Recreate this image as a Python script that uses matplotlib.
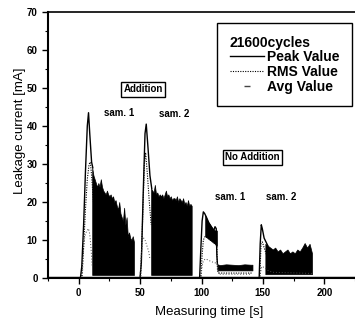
import matplotlib
matplotlib.use("Agg")
import matplotlib.pyplot as plt
from matplotlib.lines import Line2D
from matplotlib.ticker import MultipleLocator

plt.rcParams['font.family'] = ['Liberation Sans', 'DejaVu Sans']

# ---- data ----
base_t = [-25, 225]
base_v = [0.3, 0.3]

# Addition, sample 1
a1_peak_t = [1.5, 2.5, 4, 5.5, 7, 8, 9, 10.5, 11.5]
a1_peak_v = [0.3, 3, 14, 28, 40, 43.5, 38, 30.5, 29]
a1_rms_t = [2.5, 4, 5.5, 7, 8.5, 9.5, 10.5, 12]
a1_rms_v = [0.5, 8, 18, 26, 30, 30.5, 27, 20]
a1_avg_t = [3, 4, 5, 6, 7, 8, 9, 10, 11]
a1_avg_v = [0.5, 8, 11, 12, 12.5, 13, 11.5, 8, 3]
a1_burst_t = [11, 12, 13, 14, 15, 16, 17, 18, 19, 20, 21, 22, 23, 24, 25, 26, 27, 28,
              29, 30, 31, 32, 33, 34, 35, 36, 37, 38, 39, 40, 41, 42, 43, 44, 45]
a1_burst_top = [29, 27, 26, 25, 24, 25, 24, 26, 24, 23, 22.5, 22, 23, 22, 21.5, 22, 21, 21.5,
                20, 20.5, 19, 18, 20, 17, 16, 15, 18.5, 14, 16, 11, 12, 10.5, 10, 11, 9.5]
a1_burst_floor = 0.8

# Addition, sample 2
a2_peak_t = [50, 51, 52.5, 54, 55, 56.5, 58, 59.5]
a2_peak_v = [0.3, 4, 22, 38, 40.5, 34, 27, 23.5]
a2_rms_t = [50.5, 52, 53.5, 54.5, 56, 57.5, 59]
a2_rms_v = [0.5, 15, 30, 33, 27, 20, 14]
a2_avg_t = [50, 51, 52, 53, 54, 55, 56, 57, 58]
a2_avg_v = [0.5, 6, 10, 10.5, 10, 9, 8, 7, 5]
a2_burst_t = [59, 60, 61, 62, 63, 64, 65, 66, 67, 68, 69, 70, 71, 72, 73, 74, 75, 76,
              77, 78, 79, 80, 81, 82, 83, 84, 85, 86, 87, 88, 89, 90, 91, 92]
a2_burst_top = [23.5, 23, 22.5, 24.5, 22, 22.5, 21.5, 22, 21.5, 22, 21, 22, 23, 21.5, 22, 21, 21.5, 20.5,
                21, 21, 20.5, 21.5, 20, 21, 20.5, 20, 21, 19.5, 20, 19, 20.5, 19, 19.5, 19]
a2_burst_floor = 0.8

# No addition, sample 1
n1_peak_t = [98.5, 99.5, 100.5, 101.5, 102.5, 104, 106, 108, 110, 111, 112, 112.5, 113]
n1_peak_v = [0.3, 8, 15, 17.4, 17, 16, 14.5, 13.5, 12.5, 13.5, 13, 6, 3.5]
n1_rms_t = [99.5, 100.5, 101.5, 103, 105, 107, 109, 111, 112.5, 113, 114, 141]
n1_rms_v = [0.5, 6, 10, 11, 10.5, 10, 9.5, 9, 8.5, 2, 1.3, 1.3]
n1_avg_t = [99.5, 100.5, 101.5, 103, 105, 108, 111, 113, 114, 141]
n1_avg_v = [0.3, 3, 4.5, 5, 4.8, 4.3, 4, 3.8, 1, 1]
n1_burst_t = [103, 105, 107, 109, 111, 112.5]
n1_burst_top = [16.5, 15, 14, 13, 12.5, 12.5]
n1_burst_low = [11, 10.5, 10, 9.5, 9, 8.5]
n1_band_t = [113, 115, 120, 125, 130, 135, 140, 141.5]
n1_band_top = [3.6, 3.4, 3.6, 3.5, 3.4, 3.6, 3.5, 3.5]
n1_band_floor = 2.0

# No addition, sample 2
n2_peak_t = [147, 147.8, 148.7, 149.5, 151, 152.5, 154]
n2_peak_v = [0.3, 9, 14, 13, 10.5, 9.5, 8.5]
n2_rms_t = [147.5, 148.5, 149.5, 151, 153, 155]
n2_rms_v = [0.5, 9, 9.5, 8, 6, 4.5]
n2_avg_t = [147.5, 149, 151, 154, 158, 190]
n2_avg_v = [0.3, 3, 2.8, 2, 1.5, 1.2]
n2_burst_t = [152, 154, 156, 158, 160, 162, 164, 166, 168, 170, 172, 174, 176, 178,
              180, 182, 184, 186, 188, 190]
n2_burst_top = [9, 8.5, 8, 7.5, 8, 7, 7.5, 6.5, 7, 7.5, 6.5, 7, 6.5, 7.5,
                7, 8, 9.2, 8, 9, 6.5]
n2_burst_floor = 1.0

x_ticks = [0, 50, 100, 150, 200]
y_ticks = [0, 10, 20, 30, 40, 50, 60, 70]

legend_title = "21600cycles"
series_names = ["Peak Value", "RMS Value", "Avg Value"]

# ---- figure ----
fig = plt.figure(figsize=(3.55, 3.24), dpi=100)
ax = fig.add_axes([48/355, 46/324, (355-48)/355, 266/324])

k = dict(color='black')
ax.plot(base_t, base_v, lw=1.0, **k)
for t, v in [(a1_peak_t, a1_peak_v), (a2_peak_t, a2_peak_v),
             (n1_peak_t, n1_peak_v), (n2_peak_t, n2_peak_v)]:
    ax.plot(t, v, lw=1.0, **k)
for t, v in [(a1_rms_t, a1_rms_v), (a2_rms_t, a2_rms_v),
             (n1_rms_t, n1_rms_v), (n2_rms_t, n2_rms_v)]:
    ax.plot(t, v, lw=0.8, ls=(0, (1, 1.2)), **k)
for t, v in [(a1_avg_t, a1_avg_v), (a2_avg_t, a2_avg_v),
             (n1_avg_t, n1_avg_v), (n2_avg_t, n2_avg_v)]:
    ax.plot(t, v, lw=0.7, ls=(0, (1, 2)), color='#444444')

ax.fill_between(a1_burst_t, a1_burst_floor, a1_burst_top, color='black', lw=0.5)
ax.fill_between(a2_burst_t, a2_burst_floor, a2_burst_top, color='black', lw=0.5)
ax.fill_between(n1_burst_t, n1_burst_low, n1_burst_top, color='black', lw=0.5)
ax.fill_between(n1_band_t, n1_band_floor, n1_band_top, color='black', lw=0.5)
ax.fill_between(n2_burst_t, n2_burst_floor, n2_burst_top, color='black', lw=0.5)

ax.set_xlim(-25, 225)
ax.set_ylim(0, 70)
ax.set_xticks(x_ticks)
ax.set_yticks(y_ticks)
ax.xaxis.set_minor_locator(MultipleLocator(25))
ax.yaxis.set_minor_locator(MultipleLocator(5))
ax.tick_params(which='major', direction='out', length=4, width=1.0, labelsize=7)
ax.tick_params(which='minor', direction='out', length=2, width=0.8)
for lab in ax.get_xticklabels() + ax.get_yticklabels():
    lab.set_fontweight('bold')
ax.spines['right'].set_visible(False)
ax.spines['left'].set_linewidth(1.5)
ax.spines['bottom'].set_linewidth(1.5)
ax.spines['top'].set_linewidth(1.2)

ax.set_xlabel("Measuring time [s]", fontsize=9.5)
ax.set_ylabel("Leakage current [mA]", fontsize=9.5)
ax.xaxis.set_label_coords(0.524, -0.105)
ax.yaxis.set_label_coords(-0.091, 0.553)
ax.yaxis.label.set_va('center')

box = dict(boxstyle='square,pad=0.25', fc='white', ec='black', lw=1.0)
ax.text(52.4, 49.7, "Addition", fontsize=7, fontweight='bold', ha='center', va='center', bbox=box)
ax.text(141.5, 31.8, "No Addition", fontsize=7, fontweight='bold', ha='center', va='center', bbox=box)
ax.text(33, 43.4, "sam. 1", fontsize=7, fontweight='bold', ha='center', va='center')
ax.text(78, 43.2, "sam. 2", fontsize=7, fontweight='bold', ha='center', va='center')
ax.text(123, 21.3, "sam. 1", fontsize=7, fontweight='bold', ha='center', va='center')
ax.text(165, 21.3, "sam. 2", fontsize=7, fontweight='bold', ha='center', va='center')

handles = [Line2D([], [], color='black', lw=1.0),
           Line2D([], [], color='black', lw=0.8, ls=(0, (1, 1.2))),
           Line2D([], [], color='#444444', marker='_', ls='none', markersize=4)]
leg = ax.legend(handles, series_names, title=legend_title, loc='upper right',
                bbox_to_anchor=(352/355, 1 - 23/324), bbox_transform=fig.transFigure,
                fancybox=False, frameon=True, edgecolor='black', framealpha=1,
                prop={'size': 10, 'weight': 'bold'}, title_fontproperties={'size': 10, 'weight': 'bold'},
                handlelength=2.5, handletextpad=0.2, labelspacing=0.05, borderpad=0.9,
                borderaxespad=0)
leg._legend_box.align = 'left'
leg.get_frame().set_linewidth(1.0)

fig.savefig("out.png", dpi=100)
